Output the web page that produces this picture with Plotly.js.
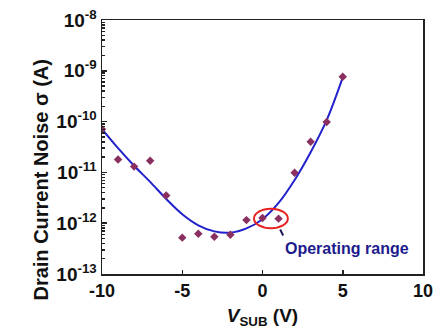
<!DOCTYPE html>
<html><head><meta charset="utf-8">
<script src="https://cdn.plot.ly/plotly-3.0.1.min.js"></script>
<style>html,body{margin:0;padding:0;background:#fff}</style>
</head><body>
<div id="chart" style="width:438px;height:332px"></div>
<script>
// measured points
const vsub = [-10,-9,-8,-7,-6,-5,-4,-3,-2,-1,0,1,2,3,4,5];
const noise = [7.1e-11,1.8e-11,1.3e-11,1.7e-11,3.5e-12,5.2e-13,6.2e-13,5.4e-13,5.9e-13,1.15e-12,1.26e-12,1.23e-12,9.8e-12,4.0e-11,9.8e-11,7.6e-10];
// fitted curve
const fitV = [-10,-9,-8,-7,-6,-5,-4,-3,-2,-1,0,1,2,3,4,5];
const fitNoise = [7.1e-11,3.0e-11,1.35e-11,6.5e-12,3.0e-12,1.5e-12,9.1e-13,6.9e-13,6.5e-13,7.9e-13,1.2e-12,2.5e-12,7.1e-12,2.5e-11,1.07e-10,7.4e-10];
const xTicks = [-10,-5,0,5,10];
const xTickText = ['-10','-5','0','5','10'];
const yTicks = [1e-13,1e-12,1e-11,1e-10,1e-9,1e-8];
const yTickText = ['10<sup>-13</sup>','10<sup>-12</sup>','10<sup>-11</sup>','10<sup>-10</sup>','10<sup>-9</sup>','10<sup>-8</sup>'];

const F = 'Arial, "Liberation Sans", sans-serif';
const traces = [
  {x: fitV, y: fitNoise, mode:'lines', line:{color:'#2222cc', width:2, shape:'spline', smoothing:1}, hoverinfo:'skip'},
  {x: vsub, y: noise, mode:'markers', marker:{symbol:'diamond', size:6.5, color:'#8a3060'}}
];
const layout = {
  width:438, height:332,
  margin:{l:102, r:15, t:20, b:58},
  paper_bgcolor:'#fff', plot_bgcolor:'#fff',
  showlegend:false,
  font:{family:F, color:'#111'},
  xaxis:{range:[-10,10], tickvals:xTicks, ticktext:xTickText.map(t=>'<b>'+t+'</b>'),
    ticks:'inside', ticklen:4, tickwidth:1.5, tickcolor:'#222',
    showgrid:false, zeroline:false, showline:true, linecolor:'#222', linewidth:1.5, mirror:true,
    tickfont:{size:18, family:F, color:'#111'},
    title:{text:'<b><i>V</i><sub>SUB</sub> (V)</b>', font:{size:19, family:F, color:'#111'}, standoff:8}},
  yaxis:{type:'log', range:[-13,-8], tickvals:yTicks, ticktext:yTickText.map(t=>'<b>'+t+'</b>'),
    ticks:'inside', ticklen:5, tickwidth:1.5, tickcolor:'#222',
    minor:{ticks:'inside', ticklen:3, tickcolor:'#222', dtick:'D1', showgrid:false},
    showgrid:false, zeroline:false, showline:true, linecolor:'#222', linewidth:1.5, mirror:true,
    tickfont:{size:19, family:F, color:'#111'}},
  shapes:[
    {type:'circle', xref:'paper', yref:'paper', x0:0.4735, x1:0.579, y0:0.18, y1:0.257,
     line:{color:'#e82020', width:2}}
  ],
  annotations:[
    {xref:'paper', yref:'paper', x:-0.232, y:0.37, text:'<b>Drain Current Noise σ (A)</b>', textangle:-90,
     showarrow:false, font:{size:20, family:F, color:'#111'}},
    {xref:'paper', yref:'paper', x:0.565, y:0.10, xanchor:'left', yanchor:'middle',
     text:'<b>Operating range</b>', showarrow:false, font:{size:16, family:F, color:'#1c1c8c'}},
    {xref:'paper', yref:'paper', x:0.555, y:0.175, text:' ', showarrow:true, axref:'pixel', ayref:'pixel',
     ax:6, ay:12, arrowhead:0, arrowwidth:2, arrowcolor:'#1c1c5c', standoff:0}
  ]
};
Plotly.newPlot('chart', traces, layout, {displayModeBar:false, staticPlot:true});
</script>
</body></html>
